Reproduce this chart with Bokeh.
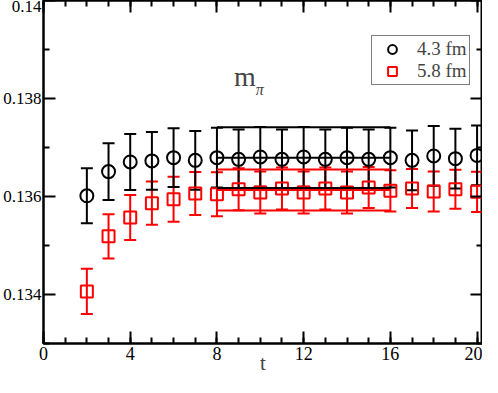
from bokeh.plotting import figure
from bokeh.models import (Whisker, ColumnDataSource, LinearAxis, Range1d, Legend,
                          LegendItem, Label, FixedTicker, TeeHead, NumeralTickFormatter,
                          CustomJSTickFormatter)
from bokeh.embed import file_html
from bokeh.resources import INLINE

# ---- data ----
t = list(range(2, 21))
m43 = [0.136014, 0.136508, 0.136705, 0.136726, 0.136793, 0.136738, 0.136793,
       0.136758, 0.136807, 0.136758, 0.136807, 0.136758, 0.136793, 0.136758,
       0.136793, 0.136738, 0.136827, 0.136772, 0.136839]
e43 = [0.00056, 0.00058, 0.00057, 0.00059, 0.00060, 0.00060, 0.00061,
       0.00061, 0.00061, 0.00061, 0.00061, 0.00061, 0.00061, 0.00061,
       0.00061, 0.00061, 0.00061, 0.00061, 0.00061]
m58 = [0.134063, 0.135187, 0.135573, 0.135864, 0.135945, 0.136061, 0.136047,
       0.136148, 0.136081, 0.136163, 0.136081, 0.136163, 0.136081, 0.136183,
       0.136116, 0.136163, 0.136102, 0.136148, 0.136096]
e58 = [0.00046, 0.00045, 0.00046, 0.00044, 0.00046, 0.00044, 0.00045,
       0.00043, 0.00043, 0.00043, 0.00043, 0.00043, 0.00043, 0.00042,
       0.00042, 0.00040, 0.00041, 0.00040, 0.00041]
fit_t = [8, 16]
fit43, fit43_err = 0.136793, 0.00062
fit58, fit58_err = 0.136132, 0.00042
labels = ["4.3 fm", "5.8 fm"]
x_major = [0, 4, 8, 12, 16, 20]
x_minor = list(range(0, 21))
y_major = [0.134, 0.136, 0.138, 0.140]
y_minor = [0.133, 0.135, 0.137, 0.139]

FONT = "Liberation Serif"

p = figure(width=482, height=377, x_range=Range1d(0, 20.25), y_range=Range1d(0.133, 0.140),
           output_backend="svg", toolbar_location=None,
           min_border_left=39, min_border_right=0, min_border_top=0, min_border_bottom=33,
           x_axis_location=None, y_axis_location=None)
p.grid.visible = False
p.outline_line_color = "black"
p.outline_line_width = 2
p.background_fill_color = "white"
p.border_fill_color = "white"


def style_axis(ax, ticks, minor, show_labels):
    ax.ticker = FixedTicker(ticks=ticks, minor_ticks=minor)
    ax.axis_line_width = 2
    ax.major_tick_in = 12
    ax.major_tick_out = 0
    ax.minor_tick_in = 6
    ax.minor_tick_out = 0
    ax.major_tick_line_width = 2
    ax.minor_tick_line_width = 2
    ax.major_label_text_font = FONT
    ax.major_label_text_color = "black"
    ax.major_label_text_font_size = "17px"
    if show_labels:
        ax.major_label_standoff = 2
    else:
        ax.formatter = CustomJSTickFormatter(code="return ''")
        ax.major_label_standoff = 0


xb = LinearAxis(axis_label="t")
style_axis(xb, x_major, x_minor, True)
xb.major_label_text_font_size = "18px"
xb.major_label_standoff = 3
xb.axis_label_text_font = FONT
xb.axis_label_text_font_style = "normal"
xb.axis_label_text_font_size = "21px"
xb.axis_label_standoff = -12
p.add_layout(xb, "below")

xt = LinearAxis()
style_axis(xt, x_major, x_minor, False)
p.add_layout(xt, "above")

yl = LinearAxis(formatter=NumeralTickFormatter(format="0.[000]"))
style_axis(yl, y_major, y_minor, True)
p.add_layout(yl, "left")

yr = LinearAxis()
style_axis(yr, y_major, y_minor, False)
p.add_layout(yr, "right")

# ---- 5.8 fm (red) ----
src58 = ColumnDataSource(dict(t=t, m=m58,
                              lo=[a - b for a, b in zip(m58, e58)],
                              hi=[a + b for a, b in zip(m58, e58)]))
p.add_layout(Whisker(base="t", lower="lo", upper="hi", source=src58,
                     line_color="red", line_width=2,
                     upper_head=TeeHead(size=12, line_color="red", line_width=2),
                     lower_head=TeeHead(size=12, line_color="red", line_width=2)))
for v in (fit58 - fit58_err, fit58, fit58 + fit58_err):
    p.line(fit_t, [v, v], line_color="red", line_width=2)
r58 = p.scatter("t", "m", source=src58, marker="square", size=12,
                fill_color=None, line_color="red", line_width=2)

# ---- 4.3 fm (black) ----
src43 = ColumnDataSource(dict(t=t, m=m43,
                              lo=[a - b for a, b in zip(m43, e43)],
                              hi=[a + b for a, b in zip(m43, e43)]))
p.add_layout(Whisker(base="t", lower="lo", upper="hi", source=src43,
                     line_color="black", line_width=2,
                     upper_head=TeeHead(size=12, line_color="black", line_width=2),
                     lower_head=TeeHead(size=12, line_color="black", line_width=2)))
for v in (fit43 - fit43_err, fit43, fit43 + fit43_err):
    p.line(fit_t, [v, v], line_color="black", line_width=2)
r43 = p.scatter("t", "m", source=src43, marker="circle", size=13,
                fill_color=None, line_color="black", line_width=2)

legend = Legend(items=[LegendItem(label=labels[0], renderers=[r43]),
                       LegendItem(label=labels[1], renderers=[r58])],
                location=(328, 258), padding=2, spacing=0, margin=0,
                glyph_width=36, glyph_height=22, label_height=18, label_standoff=7,
                label_text_font=FONT, label_text_font_size="19px",
                border_line_color="black", border_line_width=1,
                background_fill_color="white", background_fill_alpha=1)
p.add_layout(legend, "center")

p.add_layout(Label(x=9.29, y=0.13844, text="m", text_font=FONT, text_font_size="28px",
                   text_align="center", text_baseline="middle"))
p.add_layout(Label(x=9.97, y=0.13818, text="π", text_font=FONT, text_font_size="16px",
                   text_align="center", text_baseline="middle", text_font_style="italic"))

open("out.html", "w").write(file_html(p, INLINE))
